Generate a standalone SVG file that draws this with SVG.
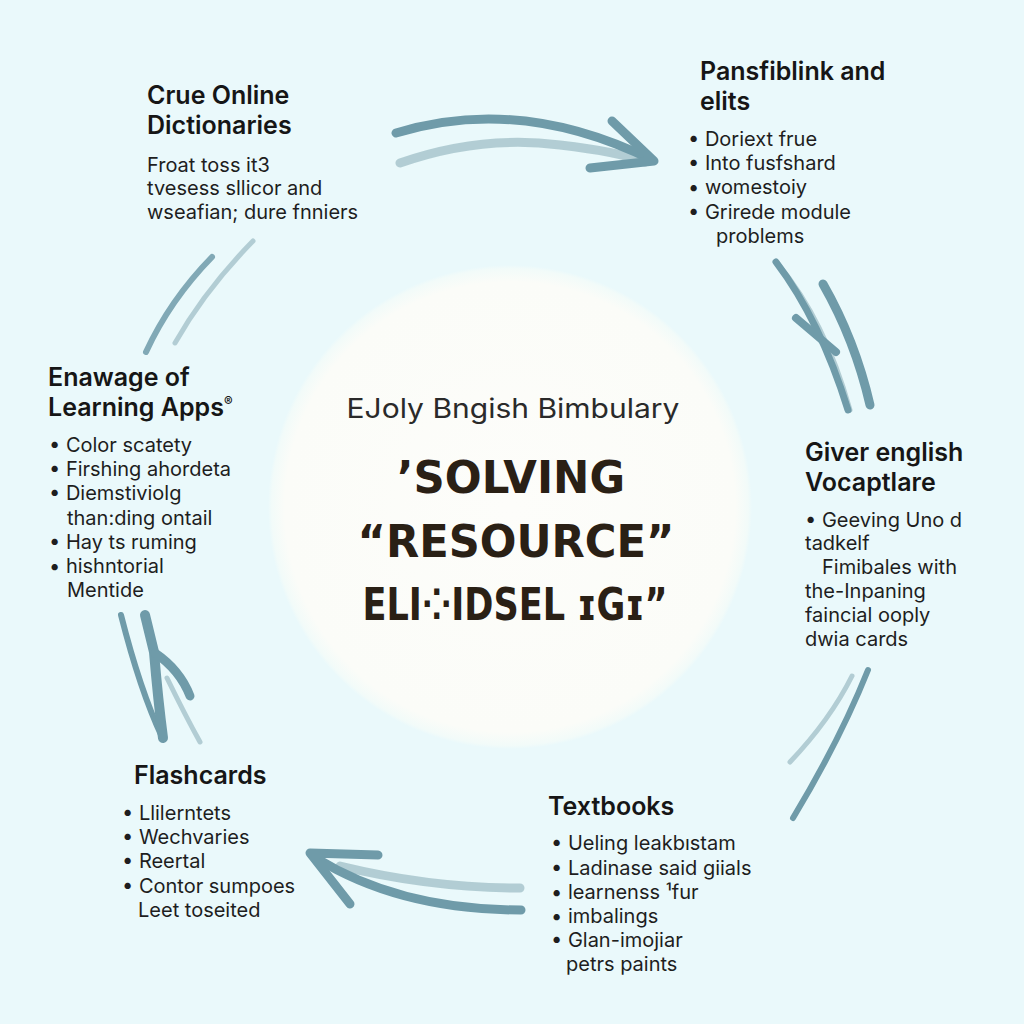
<svg xmlns="http://www.w3.org/2000/svg" width="1024" height="1024" viewBox="0 0 1024 1024">
<defs>
<radialGradient id="hub" cx="0.5" cy="0.5" r="0.5">
<stop offset="0" stop-color="#fdfdfa"/>
<stop offset="0.93" stop-color="#fbfcf8"/>
<stop offset="0.985" stop-color="#f2fbf9"/>
<stop offset="1" stop-color="#eaf9fb"/>
</radialGradient>
<style>
.h{font-family:Inter,"Noto Sans",sans-serif;font-weight:600;font-size:25px;fill:#161616}
.b{font-family:Inter,"Noto Sans",sans-serif;font-size:20px;fill:#1e1e1e}
.sub{font-family:Inter,"Noto Sans",sans-serif;font-size:27px;fill:#2a2a2a}
.big{font-family:"DejaVu Sans",Inter,sans-serif;font-weight:bold;font-size:45px;fill:#2a2015}
.s{fill:none;stroke:#6f9ba9;stroke-linecap:round;stroke-linejoin:round}
.l{fill:none;stroke:#a8c6cd;stroke-linecap:round;opacity:0.85}
</style>
</defs>
<rect width="1024" height="1024" fill="#eaf9fb"/>
<g id="hub-node">
<circle cx="510" cy="507" r="242" fill="url(#hub)"/>
<text class="sub" x="513" y="418" text-anchor="middle" textLength="333" lengthAdjust="spacingAndGlyphs">EJoly Bngish Bimbulary</text>
<text class="big" x="511" y="493" text-anchor="middle" textLength="228" lengthAdjust="spacingAndGlyphs">’SOLVING</text>
<text class="big" x="516" y="557" text-anchor="middle" textLength="317" lengthAdjust="spacingAndGlyphs">“RESOURCE”</text>
<text class="big" x="515" y="620" text-anchor="middle" textLength="305" lengthAdjust="spacingAndGlyphs">ELI⁘IDSEL ɪGɪ”</text>
</g>
<g id="connectors">
<path class="l" stroke-width="9" d="M400 163 Q480 135 560 145 Q620 152 645 162"/>
<path class="s" stroke-width="9" d="M396 133 Q520 95 652 160"/>
<path class="s" stroke-width="9" d="M612 121 L654 161 L590 168"/>
<path class="l" stroke-width="5" d="M778 264 Q825 320 850 410"/>
<path class="s" stroke-width="7" d="M776 262 Q820 320 848 410"/>
<path class="s" stroke-width="9" d="M823 284 Q855 340 870 405"/>
<path class="s" stroke-width="8" d="M796 318 L836 352"/>
<path class="l" stroke-width="5" d="M852 676 Q830 720 790 762"/>
<path class="s" stroke-width="6" d="M868 670 Q840 740 793 818"/>
<path class="l" stroke-width="9" d="M340 866 Q430 888 520 888"/>
<path class="s" stroke-width="9" d="M316 858 Q400 910 521 910"/>
<path class="s" stroke-width="9" d="M378 855 L310 853 L350 904"/>
<path class="l" stroke-width="5" d="M167 678 Q185 715 200 742"/>
<path class="s" stroke-width="6" d="M121 615 Q140 690 162 737"/>
<path class="s" stroke-width="10" d="M145 615 L154 652 Q158 700 163 738"/>
<path class="s" stroke-width="9" d="M155 653 Q180 670 190 696"/>
<path class="l" stroke-width="5" d="M253 241 Q205 290 175 343"/>
<path class="s" stroke-width="6" opacity="0.85" d="M212 257 Q170 300 146 352"/>
</g>
<g id="node-dictionaries">
<text class="h" x="147" y="104">Crue Online</text>
<text class="h" x="147" y="134">Dictionaries</text>
<text class="b" x="147" y="172">Froat toss it3</text>
<text class="b" x="147" y="195">tvesess sllicor and</text>
<text class="b" x="147" y="219">wseafian; dure fnniers</text>
</g>
<g id="node-pansfiblink">
<text class="h" x="700" y="80">Pansfiblink and</text>
<text class="h" x="700" y="110">elits</text>
<text class="b" x="688" y="146">•  Doriext frue</text>
<text class="b" x="688" y="170">•  Into fusfshard</text>
<text class="b" x="688" y="194">•  womestoiy</text>
<text class="b" x="688" y="219">•  Grirede module</text>
<text class="b" x="716" y="243">problems</text>
</g>
<g id="node-apps">
<text class="h" x="48" y="386">Enawage of</text>
<text class="h" x="48" y="416">Learning Apps<tspan font-size="13" dy="-10">®</tspan></text>
<text class="b" x="49" y="452">•  Color scatety</text>
<text class="b" x="49" y="476">•  Firshing ahordeta</text>
<text class="b" x="49" y="500">•  Diemstiviolg</text>
<text class="b" x="67" y="525">than:ding ontail</text>
<text class="b" x="49" y="549">•  Hay ts ruming</text>
<text class="b" x="49" y="573">•  hishntorial</text>
<text class="b" x="67" y="597">Mentide</text>
</g>
<g id="node-vocab">
<text class="h" x="805" y="461">Giver english</text>
<text class="h" x="805" y="491">Vocaptlare</text>
<text class="b" x="805" y="527">• Geeving Uno d</text>
<text class="b" x="805" y="550">tadkelf</text>
<text class="b" x="822" y="574">Fimibales with</text>
<text class="b" x="805" y="598">the-Inpaning</text>
<text class="b" x="805" y="622">faincial ooply</text>
<text class="b" x="805" y="646">dwia cards</text>
</g>
<g id="node-flashcards">
<text class="h" x="134" y="784">Flashcards</text>
<text class="b" x="122" y="820">•  Llilerntets</text>
<text class="b" x="122" y="844">•  Wechvaries</text>
<text class="b" x="122" y="868">•  Reertal</text>
<text class="b" x="122" y="893">•  Contor sumpoes</text>
<text class="b" x="138" y="917">Leet toseited</text>
</g>
<g id="node-textbooks">
<text class="h" x="548" y="815">Textbooks</text>
<text class="b" x="551" y="850">•  Ueling leakbıstam</text>
<text class="b" x="551" y="875">•  Ladinase said giials</text>
<text class="b" x="551" y="899">•  learnenss ¹fur</text>
<text class="b" x="551" y="923">•  imbalings</text>
<text class="b" x="551" y="947">•  Glan-imojiar</text>
<text class="b" x="566" y="971">petrs paints</text>
</g>
</svg>
